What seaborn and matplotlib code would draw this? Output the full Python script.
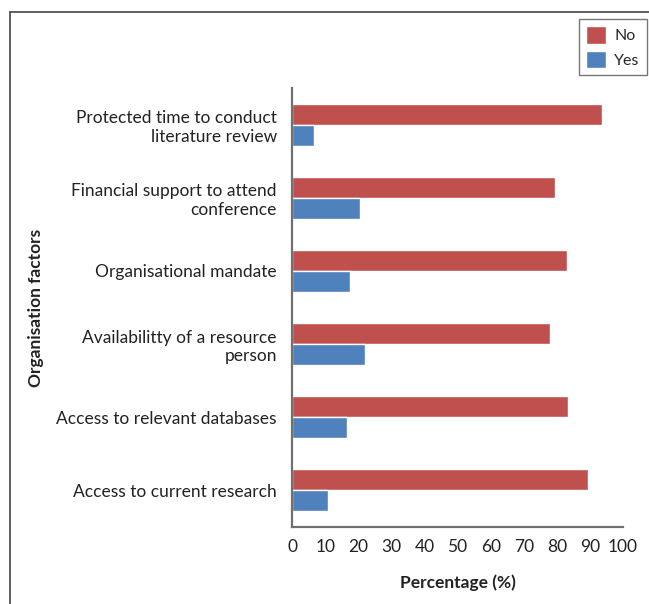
import matplotlib
matplotlib.use("Agg")
import matplotlib.pyplot as plt
import seaborn as sns
import pandas as pd
from matplotlib.lines import Line2D

factors = [
    "Protected time to conduct\nliterature review",
    "Financial support to attend\nconference",
    "Organisational mandate",
    "Availabilitty of a resource\nperson",
    "Access to relevant databases",
    "Access to current research",
]
no_pct = [93.5, 79.5, 83, 78, 83.5, 89.5]
yes_pct = [6.5, 20.5, 17.5, 22, 16.5, 11]
responses = ["No", "Yes"]
colors = {"No": "#C0504D", "Yes": "#4F81BD"}
x_ticks = list(range(0, 101, 10))

df = pd.DataFrame({
    "factor": factors * 2,
    "pct": no_pct + yes_pct,
    "response": ["No"] * len(factors) + ["Yes"] * len(factors),
})

sns.set_style("white")
plt.rcParams["font.family"] = ["Lato", "DejaVu Sans"]

fig = plt.figure(figsize=(6.49, 6.04), dpi=100)
ax = fig.add_axes([0.450, 0.1275, 0.510, 0.7268])

sns.barplot(data=df, y="factor", x="pct", hue="response", hue_order=responses,
            order=factors, palette=colors, orient="h", width=0.575,
            saturation=1, ax=ax, legend=True)

ax.set_xlim(0, 100)
ax.set_ylim(len(factors) - 0.5, -0.5)
ax.set_xticks(x_ticks)
ax.set_xticklabels([str(t) for t in x_ticks], fontsize=12.5, color="#222222")
ax.tick_params(axis="x", length=5, width=1.2, color="#555555", direction="out", pad=4)
ax.tick_params(axis="y", which="major", length=0, pad=11, labelsize=12.5, labelcolor="#222222")
ax.set_yticks([i - 0.5 for i in range(len(factors) + 1)], minor=True)
ax.tick_params(axis="y", which="minor", length=5, width=1.2, color="#555555", direction="out")
for lab in ax.get_yticklabels():
    lab.set_horizontalalignment("right")
    lab.set_multialignment("right")

for s in ["top", "right"]:
    ax.spines[s].set_visible(False)
for s in ["left", "bottom"]:
    ax.spines[s].set_color("#707070")
    ax.spines[s].set_linewidth(1.6)

ax.set_xlabel("Percentage (%)", fontsize=12.5, fontweight="bold", color="#222222", labelpad=14)
ax.set_ylabel("Organisation factors", fontsize=12.5, fontweight="bold", color="#222222")
ax.yaxis.set_label_coords(-0.75, 0.5)

leg = ax.legend(loc="upper right", bbox_to_anchor=(647 / 649, 1 - 19 / 604),
                bbox_transform=fig.transFigure, frameon=True, fancybox=False,
                fontsize=11.5, handlelength=1.3, handleheight=1.3, borderpad=0.45,
                labelspacing=0.45, handletextpad=0.5, borderaxespad=0, title=None)
leg.get_frame().set_edgecolor("#555555")
leg.get_frame().set_linewidth(1.0)

# outer border (top and left)
fig.add_artist(Line2D([10 / 649, 1], [1 - 12 / 604, 1 - 12 / 604], transform=fig.transFigure,
                      color="#444444", lw=1.2))
fig.add_artist(Line2D([10 / 649, 10 / 649], [0, 1 - 12 / 604], transform=fig.transFigure,
                      color="#444444", lw=1.2))

fig.savefig("out.png", dpi=100)
